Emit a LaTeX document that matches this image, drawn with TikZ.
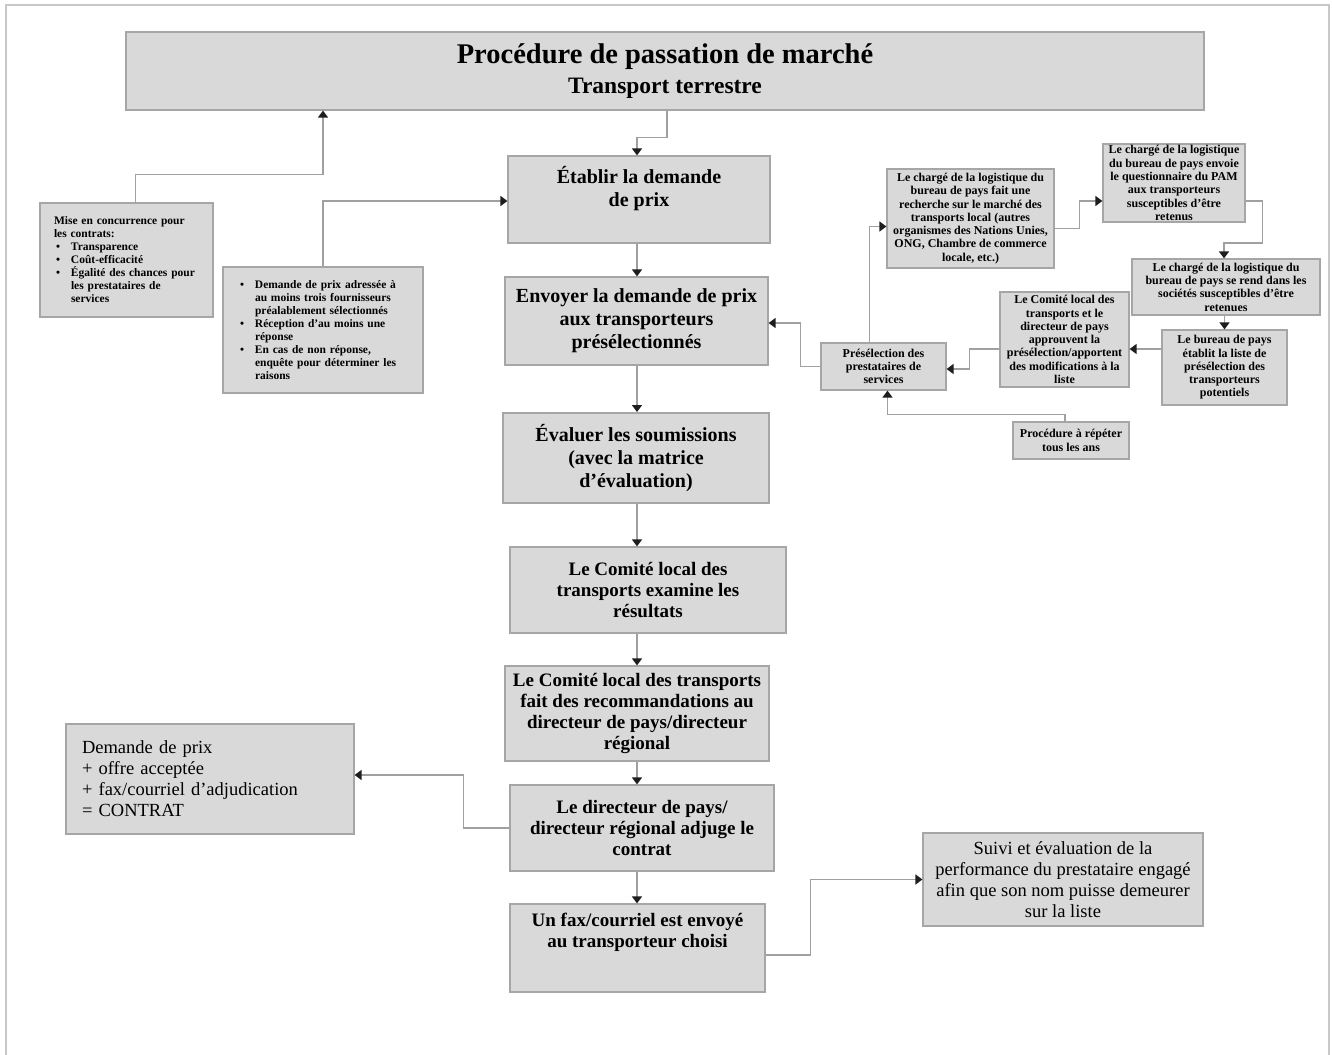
\documentclass[tikz,border=0pt]{standalone}
\usepackage{fontspec}
\setmainfont{Liberation Serif}
\usepackage{tikz}
\usetikzlibrary{
    positioning,
    arrows.meta,
    calc
}
\definecolor{boxFill}{RGB}{217, 217, 217}
\definecolor{boxLine}{RGB}{166, 166, 166}
\definecolor{lineGray}{RGB}{160, 160, 160}
\definecolor{frameGray}{RGB}{200, 200, 200}
\definecolor{tipDark}{RGB}{30, 30, 30}

\tikzset{
    box/.style={draw=boxLine, fill=boxFill, line width=1.2pt, inner sep=0pt, align=center},
    wh/.style 2 args={minimum width=#1pt, minimum height=#2pt},
    bigtxt/.style={font=\fontsize{20}{23}\selectfont\bfseries},
    midtxt/.style={font=\fontsize{19}{21}\selectfont\bfseries},
    lefttxt/.style={font=\fontsize{11.5}{13}\selectfont\bfseries},
    smalltxt/.style={font=\fontsize{12}{13.3}\selectfont\bfseries},
    plaintxt/.style={font=\fontsize{18.5}{21}\selectfont},
    arr/.style={draw=lineGray, line width=1.5pt, -{Triangle[width=10pt,length=7pt,color=tipDark]}}
}
\newcommand{\bul}{\makebox[15pt][l]{\textbullet}}

\begin{document}
\begin{tikzpicture}[x=1pt, y=-1pt]
        \useasboundingbox (0,0) rectangle (1332,1054);
        \draw[frameGray, line width=2pt] (6,1060) -- (6,5) -- (1329,5) -- (1329,1060);
        \coordinate (spine) at (637,0);

        % main column
        \node[box, wh={1078}{78}, font=\fontsize{28.5}{30}\selectfont\bfseries] (title) at (665,71)
            {Procédure de passation de marché\\ {\fontsize{23.5}{26}\selectfont Transport terrestre}};
        \node[box, bigtxt, wh={262}{87}] (etablir) at (639,199.5) {Établir la demande\\ de prix\\[4pt] \mbox{}};
        \node[box, bigtxt, wh={263}{88}] (envoyer) at (636.5,321) {Envoyer la demande de prix\\ aux transporteurs\\ présélectionnés};
        \node[box, bigtxt, wh={266}{90}, line width=2pt] (evaluer) at (636,458) {Évaluer les soumissions\\ (avec la matrice\\ d'évaluation)};
        \node[box, midtxt, wh={276}{86}] (examine) at (648,590) {Le Comité local des\\ transports examine les\\ résultats};
        \node[box, midtxt, wh={264}{95}] (recommande) at (637,713.5) {Le Comité local des transports\\ fait des recommandations au\\ directeur de pays/directeur\\ régional};
        \node[box, midtxt, wh={264}{86}] (directeur) at (642,828) {Le directeur de pays/\\ directeur régional adjuge le\\ contrat};
        \node[box, midtxt, wh={255}{88}] (unfax) at (637.5,948) {Un fax/courriel est envoyé\\ au transporteur choisi\\[14pt] \mbox{}};

        % left side
        \node[box, lefttxt, wh={173}{114}, align=left, text width=145pt, inner xsep=14pt] (mise) at (126.5,260)
            {Mise en concurrence pour\\ les contrats:\\ \hspace*{2pt}\bul Transparence\\ \hspace*{2pt}\bul Coût-efficacité\\
             \hspace*{2pt}\bul Égalité des chances pour\\ \hspace*{17pt}les prestataires de\\ \hspace*{17pt}services};
        \node[box, lefttxt, wh={200}{126}, align=left, text width=166pt, inner xsep=17pt] (bul) at (323,330)
            {\bul Demande de prix adressée à\\ \hspace*{15pt}au moins trois fournisseurs\\ \hspace*{15pt}préalablement sélectionnés\\
             \bul Réception d'au moins une\\ \hspace*{15pt}réponse\\ \bul En cas de non réponse,\\
             \hspace*{15pt}enquête pour déterminer les\\ \hspace*{15pt}raisons};
        \node[box, plaintxt, wh={288}{110}, align=left, text width=256pt, inner xsep=16pt] (offre) at (210,779)
            {Demande de prix\\ + offre acceptée\\ + fax/courriel d'adjudication\\ = CONTRAT};

        % right side
        \node[box, plaintxt, wh={280}{93}] (suivi) at (1063,879.5)
            {Suivi et évaluation de la\\ performance du prestataire engagé\\ afin que son nom puisse demeurer\\ sur la liste};
        \node[box, smalltxt, wh={167}{99}] (recherche) at (970.5,218.5)
            {Le chargé de la logistique du\\ bureau de pays fait une\\ recherche sur le marché des\\ transports local (autres\\
             organismes des Nations Unies,\\ ONG, Chambre de commerce\\ locale, etc.)};
        \node[box, smalltxt, wh={142}{78}] (questionnaire) at (1174,183)
            {Le chargé de la logistique\\ du bureau de pays envoie\\ le questionnaire du PAM\\ aux transporteurs\\ susceptibles d'être\\ retenus};
        \node[box, smalltxt, wh={188}{56}] (serend) at (1226,287)
            {Le chargé de la logistique du\\ bureau de pays se rend dans les\\ sociétés susceptibles d'être\\ retenues};
        \node[box, smalltxt, wh={125}{75}] (bureau) at (1224.5,367.5)
            {Le bureau de pays\\ établit la liste de\\ présélection des\\ transporteurs\\ potentiels};
        \node[box, smalltxt, wh={129}{95}] (approuvent) at (1064.5,339.5)
            {Le Comité local des\\ transports et le\\ directeur de pays\\ approuvent la\\ présélection/apportent\\ des modifications à la\\ liste};
        \node[box, smalltxt, wh={125}{47}] (presel) at (883.5,366.5) {Présélection des\\ prestataires de\\ services};
        \node[box, smalltxt, wh={116}{37}] (repeter) at (1071,440.5) {Procédure à répéter\\ tous les ans};

        % connectors
        \draw[arr] ([xshift=2pt]title.south) -- ++(0,27) -| (etablir.north -| spine);
        \foreach \a/\b in {etablir/envoyer, envoyer/evaluer, evaluer/examine, examine/recommande,
                           recommande/directeur, directeur/unfax}
            \draw[arr] (\a.south -| spine) -- (\b.north -| spine);
        \draw[arr] ([xshift=9pt]mise.north) -- ++(0,-28) -| (title.south -| bul.north);
        \draw[arr] (bul.north) |- ([yshift=-1.5pt]etablir.west);
        \draw[arr] (presel.west) -- ++(-20,0) |- ([yshift=-2pt]envoyer.east);
        \draw[arr] ([xshift=-14pt]presel.north) |- ([yshift=-8pt]recherche.west);
        \draw[arr] ([yshift=-10pt]recherche.east) -- ++(25,0) |- ([yshift=-18pt]questionnaire.west);
        \draw[arr] ([yshift=-18pt]questionnaire.east) -- ++(17,0) -- ++(0,42) -| ([xshift=-2pt]serend.north);
        \draw[arr] (bureau.north |- serend.south) -- (bureau.north);
        \draw[arr] ([yshift=18.5pt]bureau.west) -- ([yshift=-9.5pt]approuvent.east);
        \draw[arr] ([yshift=-9.5pt]approuvent.west) -- ++(-30,0) |- ([yshift=-2.5pt]presel.east);
        \draw[arr] ([xshift=-6pt]repeter.north) -- ++(0,-7) -| ([xshift=4pt]presel.south);
        \draw[arr] (directeur.west) -- ++(-46,0) |- ([yshift=4pt]offre.east);
        \draw[arr] ([yshift=-7pt]unfax.east) -- ++(45,0) |- (suivi.west);
    \end{tikzpicture}
\end{document}
